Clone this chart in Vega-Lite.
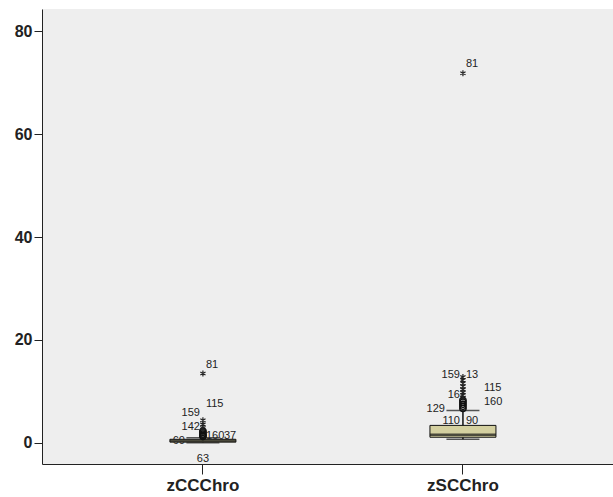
{
  "$schema": "https://vega.github.io/schema/vega-lite/v6.json",
  "autosize": "none",
  "width": 571,
  "height": 455,
  "padding": {"left": 42, "top": 9, "right": 0, "bottom": 33},
  "background": "white",
  "config": {
    "view": {"stroke": null, "fill": "#eeeeee"},
    "axis": {
      "grid": false,
      "domainColor": "#222222",
      "tickColor": "#222222",
      "labelColor": "#222222",
      "labelFont": "Liberation Sans",
      "labelFontWeight": "bold",
      "title": null
    },
    "text": {"fill": "#222222", "font": "Liberation Sans", "fontSize": 11, "baseline": "middle"}
  },
  "datasets": {
    "boxes": [
      {"cat": "zCCChro", "lo": 0.05, "q1": 0.15, "med": 0.4, "q3": 0.7, "hi": 1.0},
      {"cat": "zSCChro", "lo": 0.7, "q1": 1.1, "med": 1.6, "q3": 3.4, "hi": 6.3}
    ],
    "outliers": [
      {"cat": "zCCChro", "v": 1.25, "kind": "o"},
      {"cat": "zCCChro", "v": 1.45, "kind": "o"},
      {"cat": "zCCChro", "v": 1.7, "kind": "o"},
      {"cat": "zCCChro", "v": 2.0, "kind": "o"},
      {"cat": "zCCChro", "v": 2.3, "kind": "o"},
      {"cat": "zCCChro", "v": 2.9, "kind": "*"},
      {"cat": "zCCChro", "v": 3.6, "kind": "*"},
      {"cat": "zCCChro", "v": 4.4, "kind": "*"},
      {"cat": "zCCChro", "v": 13.5, "kind": "*"},
      {"cat": "zSCChro", "v": 6.7, "kind": "o"},
      {"cat": "zSCChro", "v": 7.1, "kind": "o"},
      {"cat": "zSCChro", "v": 7.5, "kind": "o"},
      {"cat": "zSCChro", "v": 7.9, "kind": "o"},
      {"cat": "zSCChro", "v": 8.3, "kind": "o"},
      {"cat": "zSCChro", "v": 8.8, "kind": "*"},
      {"cat": "zSCChro", "v": 9.3, "kind": "*"},
      {"cat": "zSCChro", "v": 9.8, "kind": "*"},
      {"cat": "zSCChro", "v": 10.4, "kind": "*"},
      {"cat": "zSCChro", "v": 11.0, "kind": "*"},
      {"cat": "zSCChro", "v": 11.6, "kind": "*"},
      {"cat": "zSCChro", "v": 12.2, "kind": "*"},
      {"cat": "zSCChro", "v": 12.8, "kind": "*"},
      {"cat": "zSCChro", "v": 71.8, "kind": "*"}
    ],
    "labels": [
      {"cat": "zCCChro", "ly": 15.1, "label": "81", "side": "right"},
      {"cat": "zCCChro", "ly": 7.6, "label": "115", "side": "right"},
      {"cat": "zCCChro", "ly": 5.8, "label": "159", "side": "left"},
      {"cat": "zCCChro", "ly": 3.1, "label": "142", "side": "left"},
      {"cat": "zCCChro", "ly": 1.4, "label": "160", "side": "right"},
      {"cat": "zCCChro", "ly": 1.4, "label": "37", "side": "farright"},
      {"cat": "zCCChro", "ly": 0.4, "label": "60", "side": "farleft"},
      {"cat": "zCCChro", "ly": -3.1, "label": "63", "side": "center"},
      {"cat": "zSCChro", "ly": 73.6, "label": "81", "side": "right"},
      {"cat": "zSCChro", "ly": 13.2, "label": "159", "side": "left"},
      {"cat": "zSCChro", "ly": 13.2, "label": "13", "side": "right"},
      {"cat": "zSCChro", "ly": 10.7, "label": "115", "side": "farright"},
      {"cat": "zSCChro", "ly": 9.3, "label": "16", "side": "left"},
      {"cat": "zSCChro", "ly": 8.0, "label": "160", "side": "farright"},
      {"cat": "zSCChro", "ly": 6.6, "label": "129", "side": "farleft"},
      {"cat": "zSCChro", "ly": 4.3, "label": "110", "side": "left"},
      {"cat": "zSCChro", "ly": 4.3, "label": "90", "side": "right"}
    ]
  },
  "encoding": {
    "x": {
      "field": "cat",
      "type": "nominal",
      "sort": ["zCCChro", "zSCChro"],
      "scale": {"type": "band", "paddingInner": 0.5, "paddingOuter": 0.348, "align": 0.53},
      "axis": {"labelAngle": 0, "labelFontSize": 17, "tickSize": 10, "labelPadding": 3, "domainWidth": 1}
    }
  },
  "layer": [
    {
      "mark": {"type": "rule", "color": "#222222", "strokeWidth": 1},
      "encoding": {
        "x": null,
        "y": {"datum": 84.3, "type": "quantitative"}
      }
    },
    {
      "data": {"name": "labels"},
      "transform": [{"filter": "datum.side == 'farleft'"}],
      "mark": {"type": "text", "align": "right", "dx": -18, "fill": "#222222"},
      "encoding": {"y": {"field": "ly", "type": "quantitative"}, "text": {"field": "label"}}
    },
    {
      "data": {"name": "boxes"},
      "mark": {"type": "rule", "color": "#111111", "strokeWidth": 1.5},
      "encoding": {
        "y": {
          "field": "q3", "type": "quantitative",
          "scale": {"domain": [-4.1, 84.3], "nice": false, "zero": false},
          "axis": {"values": [0, 20, 40, 60, 80], "labelFontSize": 16, "tickSize": 8, "labelPadding": 2, "domainWidth": 1}
        },
        "y2": {"field": "hi"}
      }
    },
    {
      "data": {"name": "boxes"},
      "mark": {"type": "rule", "color": "#111111", "strokeWidth": 1.5},
      "encoding": {"y": {"field": "lo", "type": "quantitative"}, "y2": {"field": "q1"}}
    },
    {
      "data": {"name": "boxes"},
      "mark": {"type": "tick", "color": "#111111", "size": 33, "thickness": 1.5, "orient": "horizontal"},
      "encoding": {"y": {"field": "hi", "type": "quantitative"}}
    },
    {
      "data": {"name": "boxes"},
      "mark": {"type": "tick", "color": "#111111", "size": 33, "thickness": 1.5, "orient": "horizontal"},
      "encoding": {"y": {"field": "lo", "type": "quantitative"}}
    },
    {
      "data": {"name": "boxes"},
      "mark": {"type": "bar", "size": 66, "fill": "#d4d0a0", "stroke": "#111111", "strokeWidth": 1},
      "encoding": {"y": {"field": "q1", "type": "quantitative"}, "y2": {"field": "q3"}}
    },
    {
      "data": {"name": "boxes"},
      "mark": {"type": "tick", "color": "#111111", "size": 66, "thickness": 2.5, "orient": "horizontal"},
      "encoding": {"y": {"field": "med", "type": "quantitative"}}
    },
    {
      "data": {"name": "outliers"},
      "transform": [{"filter": "datum.kind == 'o'"}],
      "mark": {"type": "point", "shape": "circle", "filled": false, "stroke": "#111111", "strokeWidth": 1.5, "size": 40, "opacity": 1},
      "encoding": {"y": {"field": "v", "type": "quantitative"}}
    },
    {
      "data": {"name": "outliers"},
      "transform": [{"filter": "datum.kind == '*'"}],
      "mark": {"type": "point", "shape": "M0,-1L0,1M-0.866,-0.5L0.866,0.5M-0.866,0.5L0.866,-0.5", "filled": false, "stroke": "#222222", "strokeWidth": 1.2, "size": 36, "opacity": 1},
      "encoding": {"y": {"field": "v", "type": "quantitative"}}
    },
    {
      "data": {"name": "labels"},
      "transform": [{"filter": "datum.side == 'right'"}],
      "mark": {"type": "text", "align": "left", "dx": 3, "fill": "#222222"},
      "encoding": {"y": {"field": "ly", "type": "quantitative"}, "text": {"field": "label"}}
    },
    {
      "data": {"name": "labels"},
      "transform": [{"filter": "datum.side == 'farright'"}],
      "mark": {"type": "text", "align": "left", "dx": 21, "fill": "#222222"},
      "encoding": {"y": {"field": "ly", "type": "quantitative"}, "text": {"field": "label"}}
    },
    {
      "data": {"name": "labels"},
      "transform": [{"filter": "datum.side == 'left'"}],
      "mark": {"type": "text", "align": "right", "dx": -3, "fill": "#222222"},
      "encoding": {"y": {"field": "ly", "type": "quantitative"}, "text": {"field": "label"}}
    },
    {
      "data": {"name": "labels"},
      "transform": [{"filter": "datum.side == 'center'"}],
      "mark": {"type": "text", "align": "center", "dx": 0, "fill": "#222222"},
      "encoding": {"y": {"field": "ly", "type": "quantitative"}, "text": {"field": "label"}}
    }
  ]
}
